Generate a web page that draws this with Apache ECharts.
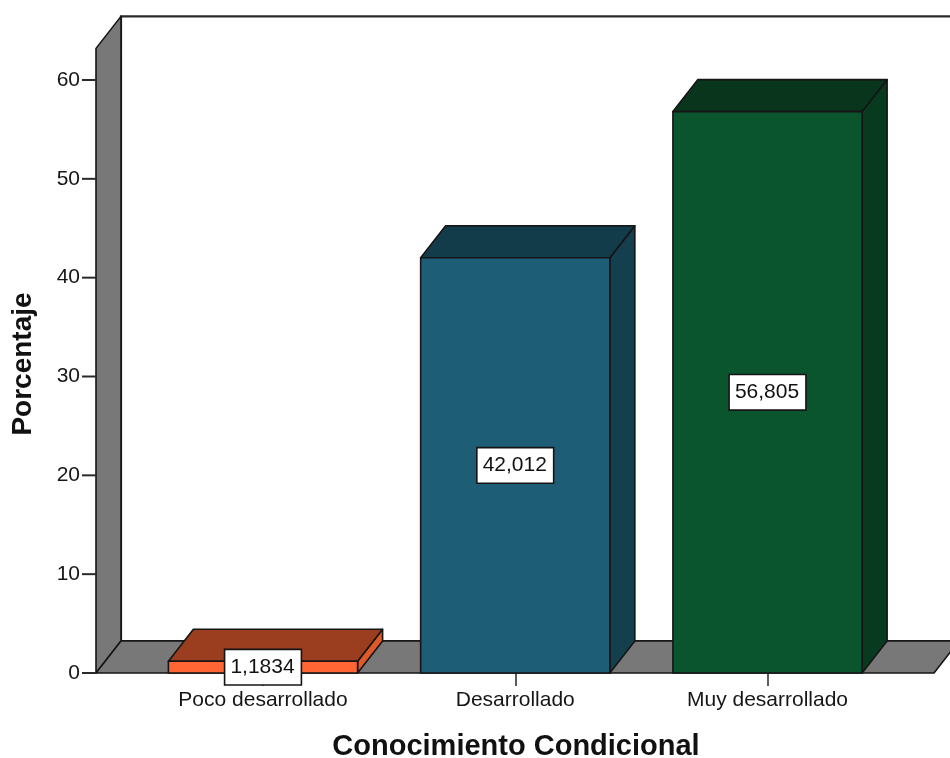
<!DOCTYPE html>
<html>
<head>
<meta charset="utf-8">
<script src="https://cdn.jsdelivr.net/npm/echarts@6/dist/echarts.min.js"></script>
<style>
  html, body { margin: 0; padding: 0; background: #fff; }
  #chart { width: 950px; height: 758px; }
</style>
</head>
<body>
<div id="chart"></div>
<script>
// Conocimiento Condicional: percentage per level
const categories = ['Poco desarrollado', 'Desarrollado', 'Muy desarrollado'];
const percentages = [1.1834, 42.012, 56.805];
const yTickValues = [0, 10, 20, 30, 40, 50, 60];

// Face colours per bar: front, top, right side
const frontColors = ['#FF6633', '#1D5E76', '#0B552E'];
const topColors = ['#9B3D1F', '#133C4A', '#08351B'];
const sideColors = ['#E0592B', '#143F4F', '#073A1E'];

// 3D look: depth offset in pixels, bar width in category units
const DEPTH_X = 25, DEPTH_Y = -32;
const BAR_WIDTH = 0.75;
const X_MIN = -0.662, X_MAX = 2.66;
const WALL_TOP = 63.2;
const Y_TICK_LEN = 14;

const FONT = '"Liberation Sans", Arial, sans-serif';
const EDGE = '#151515';

function fmt(v) { return String(v).replace('.', ','); }

function renderFrame(params, api) {
  const fb = api.coord([X_MIN, 0]);          // front-left-bottom
  const ft = api.coord([X_MIN, WALL_TOP]);   // front-left-top
  const rb = api.coord([X_MAX, 0]);          // front-right-bottom
  const bl = [fb[0] + DEPTH_X, fb[1] + DEPTH_Y];
  const tl = [ft[0] + DEPTH_X, ft[1] + DEPTH_Y];
  const br = [rb[0] + DEPTH_X, rb[1] + DEPTH_Y];
  const children = [
    { // back wall
      type: 'polygon',
      shape: { points: [tl, [br[0] + 40, tl[1]], [br[0] + 40, br[1]], bl] },
      style: { fill: '#ffffff', stroke: '#2a2a2a', lineWidth: 2.2 }
    },
    { // left wall
      type: 'polygon',
      shape: { points: [fb, ft, tl, bl] },
      style: { fill: '#787878', stroke: EDGE, lineWidth: 1.6, lineJoin: 'round' }
    },
    { // floor
      type: 'polygon',
      shape: { points: [fb, rb, br, bl] },
      style: { fill: '#787878', stroke: EDGE, lineWidth: 1.6, lineJoin: 'round' }
    }
  ];
  // tick marks on the front edge of the left wall
  yTickValues.forEach(function (t) {
    const p = api.coord([X_MIN, t]);
    children.push({
      type: 'line',
      shape: { x1: p[0] - Y_TICK_LEN, y1: p[1], x2: p[0], y2: p[1] },
      style: { stroke: '#2a2a2a', lineWidth: 2 }
    });
  });
  return { type: 'group', children: children };
}

function renderBar(params, api) {
  const i = api.value(0);
  const v = api.value(1);
  const p0 = api.coord([i - BAR_WIDTH / 2, 0]);
  const p1 = api.coord([i + BAR_WIDTH / 2, v]);
  const x0 = p0[0], y0 = p0[1], x1 = p1[0], yv = p1[1];
  const edge = { stroke: EDGE, lineWidth: 1.6, lineJoin: 'round' };
  const mid = api.coord([i, v / 2]);
  return {
    type: 'group',
    children: [
      {
        type: 'polygon',
        shape: { points: [[x1, y0], [x1, yv], [x1 + DEPTH_X, yv + DEPTH_Y], [x1 + DEPTH_X, y0 + DEPTH_Y]] },
        style: Object.assign({ fill: sideColors[i] }, edge)
      },
      {
        type: 'polygon',
        shape: { points: [[x0, yv], [x1, yv], [x1 + DEPTH_X, yv + DEPTH_Y], [x0 + DEPTH_X, yv + DEPTH_Y]] },
        style: Object.assign({ fill: topColors[i] }, edge)
      },
      {
        type: 'rect',
        shape: { x: x0, y: yv, width: x1 - x0, height: y0 - yv },
        style: Object.assign({ fill: frontColors[i] }, edge)
      },
      {
        type: 'text',
        x: mid[0],
        y: mid[1],
        z2: 10,
        style: {
          text: fmt(v),
          font: '21px ' + FONT,
          fill: '#111',
          align: 'center',
          verticalAlign: 'middle',
          backgroundColor: '#ffffff',
          borderColor: '#151515',
          borderWidth: 1.6,
          padding: [7, 6, 6, 5]
        }
      }
    ]
  };
}

const chart = echarts.init(document.getElementById('chart'), null, { renderer: 'canvas' });
chart.setOption({
  animation: false,
  backgroundColor: '#ffffff',
  grid: { left: 96, right: 16, top: 80, bottom: 85 },
  xAxis: {
    type: 'value',
    min: X_MIN,
    max: X_MAX,
    axisLine: { show: false },
    splitLine: { show: false },
    axisTick: {
      show: true,
      customValues: [0, 1, 2],
      length: 13,
      lineStyle: { color: '#333', width: 1.6 }
    },
    axisLabel: {
      customValues: [0, 1, 2],
      formatter: function (val) { return categories[Math.round(val)]; },
      margin: 17,
      fontSize: 21,
      fontFamily: FONT,
      color: '#161616'
    }
  },
  yAxis: {
    type: 'value',
    min: 0,
    max: 60,
    interval: 10,
    axisLine: { show: false },
    splitLine: { show: false },
    axisTick: { show: false },
    axisLabel: {
      margin: 16,
      padding: [6, 0, 0, 0],
      fontSize: 21,
      fontFamily: FONT,
      color: '#161616'
    }
  },
  graphic: [
    {
      type: 'text',
      x: 516,
      y: 747,
      style: {
        text: 'Conocimiento Condicional',
        font: 'bold 29px ' + FONT,
        fill: '#111',
        align: 'center',
        verticalAlign: 'middle'
      }
    },
    {
      type: 'text',
      x: 23,
      y: 364,
      rotation: Math.PI / 2,
      style: {
        text: 'Porcentaje',
        font: 'bold 28px ' + FONT,
        fill: '#111',
        align: 'center',
        verticalAlign: 'middle'
      }
    }
  ],
  series: [
    {
      type: 'custom',
      z: 1,
      silent: true,
      renderItem: renderFrame,
      data: [[0]]
    },
    {
      type: 'custom',
      z: 3,
      renderItem: renderBar,
      encode: { x: 0, y: 1 },
      data: percentages.map(function (v, i) { return [i, v]; })
    }
  ]
});
</script>
</body>
</html>
